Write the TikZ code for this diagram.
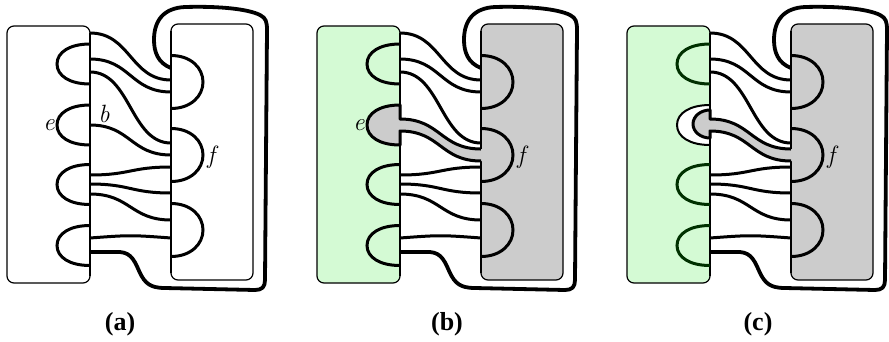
\documentclass[tikz,border=0pt]{standalone}
\usepackage{fontspec}
\newfontfamily\capfont{Liberation Serif}
\definecolor{lgreen}{RGB}{212,250,212}
\definecolor{lgray}{RGB}{204,204,204}
\definecolor{dgreen}{RGB}{0,48,0}
\tikzset{
 strand/.style={line width=3pt},
 lobeline/.style={line width=3pt},
 rectline/.style={line width=1.2pt, rounded corners=7pt},
 edgeline/.style={line width=1.8pt},
 outerline/.style={line width=3.8pt, line join=round},
 lab/.style={font=\fontsize{25}{28}\selectfont\itshape, inner sep=0pt},
 captext/.style={font=\capfont\bfseries\fontsize{26}{30}\selectfont, anchor=base, inner sep=0pt},
}
\newcommand\SCurve[2]{(90,#1) .. controls (130.5,#1) and (130.5,#2) .. (171,#2)}
\newcommand\SCurveR[2]{(171,#2) .. controls (130.5,#2) and (130.5,#1) .. (90,#1)}
\newcommand\LLobe[1]{(90,#1-20) .. controls (70,#1-20) and (57,#1-12) .. (57,#1) .. controls (57,#1+12) and (70,#1+20) .. (90,#1+20)}
\newcommand\RLobe[1]{(171,#1-26.5) .. controls (191,#1-26.5) and (203,#1-14) .. (203,#1) .. controls (203,#1+14) and (191,#1+26.5) .. (171,#1+26.5)}
\newcommand\BulbPath{(90,110) .. controls (81,110) and (73,116) .. (73,124) .. controls (73,132) and (81,138) .. (90,138)}
\newcommand\OuterPath{(171,68) .. controls (158,63) and (154,52) .. (154,40) .. controls (154,20) and (164,8) .. (185,7) .. controls (220,6) and (248,9) .. (260,15) .. controls (266,18) and (267,22) .. (267,30) -- (265,280) .. controls (265,287) and (262,290) .. (255,290) -- (165,288) .. controls (150,288) and (145,283) .. (140,273) .. controls (135,262) and (132,253) .. (120,252) -- (90,252)}
\newcommand\CommonLines{%
 \foreach \yl/\yr in {33/80,59/92,72/143,175/167,184/193,194/220}{\draw[strand] \SCurve{\yl}{\yr};}
 \draw[strand] (90,238) .. controls (130,235) and (131,235) .. (171,238);
 \foreach \c in {82,155,230}{\draw[lobeline] \RLobe{\c};}
 \draw[outerline] \OuterPath;
}
\begin{document}
\begin{tikzpicture}[x=1pt,y=-1pt]
\useasboundingbox (0,0) rectangle (889,341);
% ---------- panel (a)
\begin{scope}
 \draw[rectline] (7,26) rectangle (90,283);
 \draw[rectline] (171,24) rectangle (253,280);
 \draw[edgeline] (90,33) -- (90,276);
 \draw[edgeline] (171,31) -- (171,273);
 \foreach \c in {64,125,184.5,245.5} {\draw[lobeline] \LLobe{\c};}
 \CommonLines
 \draw[strand] \SCurve{125}{155};
 \node[lab] (ea) at (49,125) {e};
 \node[lab] (ba) at (104,114) {b};
 \node[lab] (fa) at (211,157) {f};
 \node[captext] (capa) at (120,330) {(a)};
\end{scope}
% ---------- panel (b)
\begin{scope}[xshift=310pt]
 \draw[rectline, fill=lgreen] (7,26) rectangle (90,283);
 \draw[rectline, fill=lgray] (171,24) rectangle (253,280);
 \draw[edgeline] (90,33) -- (90,276);
 \draw[edgeline] (171,31) -- (171,273);
 \foreach \c in {64,184.5,245.5} {\draw[lobeline] \LLobe{\c};}
 \CommonLines
 \fill[lgray] \SCurveR{119}{149} -- \LLobe{125} -- \SCurve{131}{161} -- (173,161) -- (173,149) -- cycle;
 \draw[strand, line join=round] \SCurveR{119}{149} -- \LLobe{125} -- \SCurve{131}{161};
 \node[lab] (eb) at (49,125) {e};
 \node[lab] (fb) at (211,157) {f};
 \node[captext] (capb) at (137,330) {(b)};
\end{scope}
% ---------- panel (c)
\begin{scope}[xshift=620pt]
 \draw[rectline, fill=lgreen] (7,26) rectangle (90,283);
 \draw[rectline, fill=lgray] (171,24) rectangle (253,280);
 \fill[white] \LLobe{125} -- cycle;
 \draw[edgeline] (90,33) -- (90,276);
 \draw[edgeline] (171,31) -- (171,273);
 \foreach \c in {64,184.5,245.5} {\draw[lobeline, dgreen] \LLobe{\c};}
 \draw[line width=2pt] \LLobe{125};
 \CommonLines
 \fill[lgray] \SCurveR{119}{149} -- \BulbPath -- \SCurve{131}{161} -- (173,161) -- (173,149) -- cycle;
 \draw[strand, line join=round] \SCurveR{119}{149} -- \BulbPath -- \SCurve{131}{161};
 \node[lab] (fc) at (211,157) {f};
 \node[captext] (capc) at (138,330) {(c)};
\end{scope}
\end{tikzpicture}
\end{document}
